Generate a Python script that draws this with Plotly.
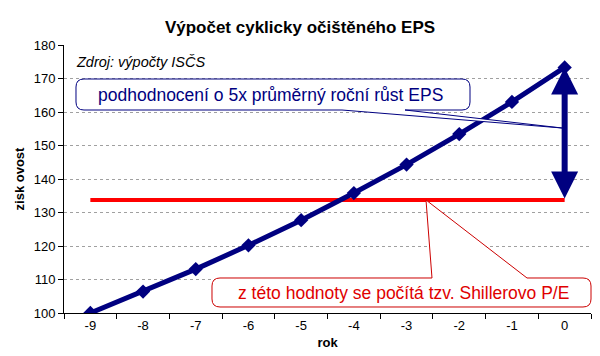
import plotly.graph_objects as go

# ---- data ----
years = [-9, -8, -7, -6, -5, -4, -3, -2, -1, 0]
eps = [100.0, 106.4, 113.1, 120.2, 127.7, 135.8, 144.3, 153.4, 163.0, 173.3]
shiller_level = sum(eps) / len(eps)
y_ticks = [100, 110, 120, 130, 140, 150, 160, 170, 180]

title_text = "Výpočet cyklicky očištěného EPS"
source_text = "Zdroj: výpočty ISČS"
note_blue = "podhodnocení o 5x průměrný roční růst EPS"
note_red = "z této hodnoty se počítá tzv. Shillerovo P/E"

W, H = 600, 356
L, R, T, B = 64, 9, 45, 43
PW, PH = W - L - R, H - T - B
FONT = "Liberation Sans, Arial, sans-serif"
NAVY = "#000080"
RED = "#ff0000"


def px(x):
    return (x - L) / PW


def py(y):
    return (H - B - y) / PH


def callout_path(x0, y0, x1, y1, r, wedge):
    # rounded rectangle with a wedge pointer; wedge=(edge, a, b, tipx, tipy)
    edge, a, b, tx, ty = wedge

    def P(x, y):
        return f"{px(x):.5f},{py(y):.5f}"
    d = f"M{P(x0 + r, y0)} "
    if edge == "top":
        d += f"L{P(a, y0)} L{P(tx, ty)} L{P(b, y0)} "
    d += f"L{P(x1 - r, y0)} Q{P(x1, y0)} {P(x1, y0 + r)} "
    d += f"L{P(x1, y1 - r)} Q{P(x1, y1)} {P(x1 - r, y1)} "
    if edge == "bottom":
        d += f"L{P(b, y1)} L{P(tx, ty)} L{P(a, y1)} "
    d += f"L{P(x0 + r, y1)} Q{P(x0, y1)} {P(x0, y1 - r)} "
    d += f"L{P(x0, y0 + r)} Q{P(x0, y0)} {P(x0 + r, y0)} Z"
    return d


fig = go.Figure()

# red average line
fig.add_trace(go.Scatter(
    x=[years[0], years[-1]], y=[shiller_level, shiller_level],
    mode="lines", line=dict(color=RED, width=4), hoverinfo="skip"))

# EPS line
fig.add_trace(go.Scatter(
    x=years, y=eps, mode="lines+markers",
    line=dict(color=NAVY, width=5),
    marker=dict(symbol="diamond", size=11, color=NAVY)))

shapes = [
    dict(type="path", xref="paper", yref="paper", layer="above",
         path=callout_path(76, 79, 470, 110, 8, ("bottom", 342, 405, 562, 128)),
         fillcolor="white", line=dict(color=NAVY, width=1)),
    dict(type="path", xref="paper", yref="paper", layer="above",
         path=callout_path(212, 278, 591, 307, 8, ("top", 432, 527, 426, 200)),
         fillcolor="white", line=dict(color="#cc0000", width=1)),
]

annotations = [
    # double arrow from average to last value
    dict(x=years[-1], y=eps[-1], ax=years[-1], ay=shiller_level,
         xref="x", yref="y", axref="x", ayref="y", text="",
         showarrow=True, arrowhead=2, arrowside="end+start", arrowsize=0.9,
         arrowwidth=6, arrowcolor=NAVY, standoff=0, startstandoff=0),
    dict(x=px(74), y=py(62), xref="paper", yref="paper", xanchor="left", yanchor="middle",
         text=f"<i>{source_text}</i>", showarrow=False,
         font=dict(family=FONT, size=14.5, color="black")),
    dict(x=px(270), y=py(95), xref="paper", yref="paper", xanchor="center", yanchor="middle",
         text=note_blue, showarrow=False,
         font=dict(family=FONT, size=17.5, color=NAVY)),
    dict(x=px(403), y=py(293), xref="paper", yref="paper", xanchor="center", yanchor="middle",
         text=note_red, showarrow=False,
         font=dict(family=FONT, size=17.5, color="#e00000")),
]

fig.update_layout(
    width=W, height=H,
    margin=dict(l=L, r=R, t=T, b=B),
    paper_bgcolor="white", plot_bgcolor="white",
    showlegend=False,
    title=dict(text=f"<b>{title_text}</b>", x=0.5, xref="container", xanchor="center",
               y=1 - 27 / H, yref="container", yanchor="middle",
               font=dict(family=FONT, size=17, color="black")),
    font=dict(family=FONT, size=13, color="black"),
    shapes=shapes, annotations=annotations,
)

fig.update_xaxes(
    range=[years[0] - 0.5, years[-1] + 0.5],
    tickvals=years, ticktext=[str(v) for v in years], ticks="",
    showgrid=False, zeroline=False,
    showline=True, linecolor="black", linewidth=1,
    minor=dict(tickvals=[v - 0.5 for v in years] + [years[-1] + 0.5],
               ticks="outside", ticklen=5, tickcolor="black", showgrid=False),
    tickfont=dict(family=FONT, size=13, color="black"),
    title=dict(text="<b>rok</b>", standoff=6, font=dict(family=FONT, size=13, color="black")),
)

fig.update_yaxes(
    range=[y_ticks[0], y_ticks[-1]], tickvals=y_ticks,
    ticks="outside", ticklen=5, tickcolor="black",
    showgrid=True, gridcolor="#a0a0a0", griddash="dot", gridwidth=1,
    zeroline=False, showline=True, linecolor="black", linewidth=1,
    tickfont=dict(family=FONT, size=13, color="black"),
    title=dict(text="<b>zisk ovost</b>", standoff=6, font=dict(family=FONT, size=13, color="black")),
)

fig.write_html("out.html", config={"displayModeBar": False},
               post_script="document.body.style.margin='0';")
